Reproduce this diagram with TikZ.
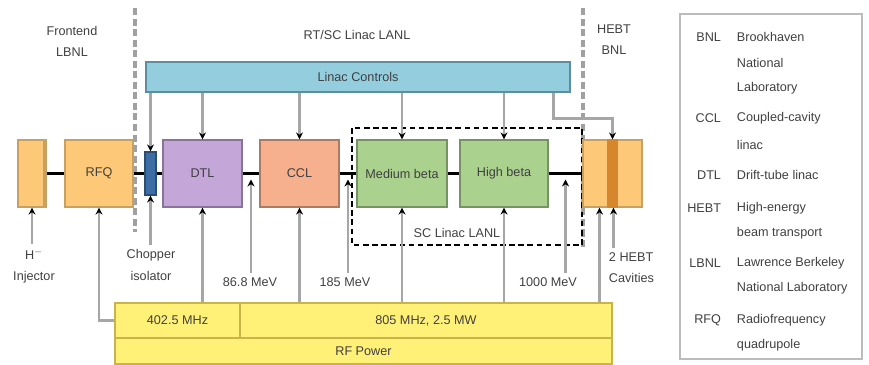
\documentclass[tikz,border=0pt]{standalone}
\usepackage{fontspec}
\setmainfont{Liberation Sans}
\usetikzlibrary{arrows.meta, calc, positioning}

\definecolor{ltorange}{RGB}{253,200,120}
\definecolor{dkorange}{RGB}{214,135,45}
\definecolor{edgeorange}{RGB}{200,160,95}
\definecolor{ltpurple}{RGB}{196,166,216}
\definecolor{ltsalmon}{RGB}{246,176,142}
\definecolor{ltgreen}{RGB}{170,210,142}
\definecolor{ltblue}{RGB}{147,205,222}
\definecolor{ctrledge}{RGB}{92,142,160}
\definecolor{chopblue}{RGB}{62,108,165}
\definecolor{ltyellow}{RGB}{255,241,120}
\definecolor{yedge}{RGB}{200,180,74}
\definecolor{feedgray}{RGB}{166,166,166}
\definecolor{sepgray}{RGB}{160,160,160}
\definecolor{txtgray}{RGB}{64,64,64}

\newcommand{\pxu}{0.025cm}

\begin{document}
\begin{tikzpicture}[x=\pxu, y=-\pxu, >=Stealth, font=\fontsize{9}{11}\selectfont,
    box/.style={draw, line width=0.8pt, minimum height=67*\pxu, inner sep=0pt, text=txtgray},
    feed/.style={draw=feedgray, line width=2pt, -{Stealth[black, length=5pt, width=5pt]}},
    beam/.style={black, line width=2pt},
    sep/.style={sepgray, line width=2.2pt, dash pattern=on 5pt off 2.5pt},
    rfbox/.style={draw=yedge, fill=ltyellow, line width=0.8pt, inner sep=0pt, text=txtgray},
    lbl/.style={align=center, text=txtgray, font=\fontsize{9}{15}\selectfont},
    abbr/.style={anchor=east, text=txtgray},
    desc/.style={anchor=west, text=txtgray}]

  \useasboundingbox (0,0) rectangle (869,365);

  % Lab boundaries
  \draw[sep] (135,8) -- (135,232);
  \draw[sep] (583,8) -- (583,248);
  \node[lbl] (felab) at (72,41) {Frontend\\LBNL};
  \node[lbl] (linaclab) at (357,35) {RT/SC Linac LANL};
  \node[lbl] (hebtlab) at (614,40) {HEBT\\BNL};

  % Controls
  \node[draw=ctrledge, fill=ltblue, line width=0.8pt, minimum width=424*\pxu,
        minimum height=30*\pxu, inner sep=0pt, text=txtgray] (ctrl) at (358,77) {Linac Controls};

  % SC linac frame
  \draw[black, line width=1.2pt, dash pattern=on 4pt off 2.5pt] (352,128) rectangle (582,245);
  \node[text=txtgray] (sclab) at (457,233) {SC Linac LANL};

  % Beamline boxes
  \node[box, fill=ltorange, draw=edgeorange, minimum width=28*\pxu] (inj) at (32,173.5) {};
  \fill[edgeorange] ($(inj.north east)+(-4,0)$) rectangle (inj.south east);
  \node[box, fill=ltorange, draw=edgeorange, minimum width=68*\pxu] (rfq) at (99,173.5) {RFQ};
  \node[box, fill=chopblue, draw=chopblue!70!black, minimum width=11*\pxu,
        minimum height=43*\pxu] (chop) at (150.5,173.5) {};
  \node[box, fill=ltpurple, draw=ltpurple!70!black, minimum width=79*\pxu] (dtl) at (202.5,173.5) {DTL};
  \node[box, fill=ltsalmon, draw=ltsalmon!70!black, minimum width=79*\pxu] (ccl) at (299.5,173.5) {CCL};
  \node[box, fill=ltgreen, draw=ltgreen!70!black, minimum width=90*\pxu] (mb) at (402,173.5) {Medium beta};
  \node[box, fill=ltgreen, draw=ltgreen!70!black, minimum width=88*\pxu] (hb) at (504,173.5) {High beta};
  \node[box, fill=ltorange, draw=edgeorange, minimum width=59*\pxu] (hebt) at (612.5,173.5) {};
  \fill[dkorange] ($(hebt.north)+(-6,0)$) rectangle ($(hebt.south)+(5,0)$);

  % Beam line
  \draw[beam] (inj) -- (rfq) -- (chop) -- (dtl) -- (ccl) -- (mb) -- (hb) -- (hebt);

  % RF power
  \node[rfbox, minimum width=125*\pxu, minimum height=35*\pxu] (rf402) at (177.5,320.5) {402.5 MHz};
  \node[rfbox, minimum width=372*\pxu, minimum height=35*\pxu] (rf805) at (426,320.5) {805 MHz, 2.5 MW};
  \node[rfbox, minimum width=497*\pxu, minimum height=26*\pxu] (rfpow) at (363.5,351) {RF Power};

  % Controls feeds
  \foreach \b in {chop, dtl, ccl, mb, hb}
    \draw[feed] (ctrl.south -| \b.north) -- (\b.north);
  \draw[feed] ($(ctrl.south east)+(-17,0)$) -- ++(0,26) -| (hebt.north);

  % RF feeds
  \draw[feed] (rf402.west) -| (rfq.south);
  \draw[feed] (rf402.north -| dtl.south) -- (dtl.south);
  \foreach \b in {ccl, mb, hb}
    \draw[feed] (rf805.north -| \b.south) -- (\b.south);
  \coordinate (hebtA) at ($(hebt.south)+(-13,0)$);
  \draw[feed] (rf805.north -| hebtA) -- (hebtA);

  % Energy taps
  \coordinate (b1) at ($(dtl.east)!0.5!(ccl.west)+(0,6)$);
  \coordinate (b2) at ($(ccl.east)!0.5!(mb.west)+(0,6)$);
  \coordinate (b3) at ($(hb.east)!0.5!(hebt.west)+(0,6)$);
  \node[text=txtgray] (e1) at (250,282) {86.8 MeV};
  \node[text=txtgray] (e2) at (345,282) {185 MeV};
  \node[text=txtgray] (e3) at (548,282) {1000 MeV};
  \draw[feed] (b1 |- e1.north) -- (b1);
  \draw[feed] (b2 |- e2.north) -- (b2);
  \draw[feed] (b3 |- e3.north) -- (b3);

  % Labels below
  \node[lbl] (injlab) at (34,266) {H$^-$\\Injector};
  \draw[feed] (injlab.north -| inj.south) -- (inj.south);
  \node[lbl] (choplab) at (151,265) {Chopper\\isolator};
  \draw[feed] (choplab.north -| chop.south) -- (chop.south);
  \node[lbl, align=left, anchor=north west] (cavlab) at (604,248) {2 HEBT\\Cavities};
  \coordinate (hebtB) at ($(hebt.south)+(1,0)$);
  \draw[feed] (hebtB |- cavlab.north) -- (hebtB);

  % Legend
  \draw[sepgray!70, line width=2pt] (680,14) rectangle (862,359);
  \foreach \ab/\y in {BNL/37, CCL/118, DTL/175, HEBT/208, LBNL/263, RFQ/320}
    \node[abbr] (ab\ab) at (726,\y) {\ab};
  \foreach \tx/\y [count=\i] in {Brookhaven/37, National/63, Laboratory/88,
      Coupled-cavity/118, linac/145, Drift-tube linac/175, High-energy/208,
      beam transport/233, Lawrence Berkeley/263, National Laboratory/288,
      Radiofrequency/320, quadrupole/345}
    \node[desc] (desc\i) at (732,\y) {\tx};

\end{tikzpicture}
\end{document}
